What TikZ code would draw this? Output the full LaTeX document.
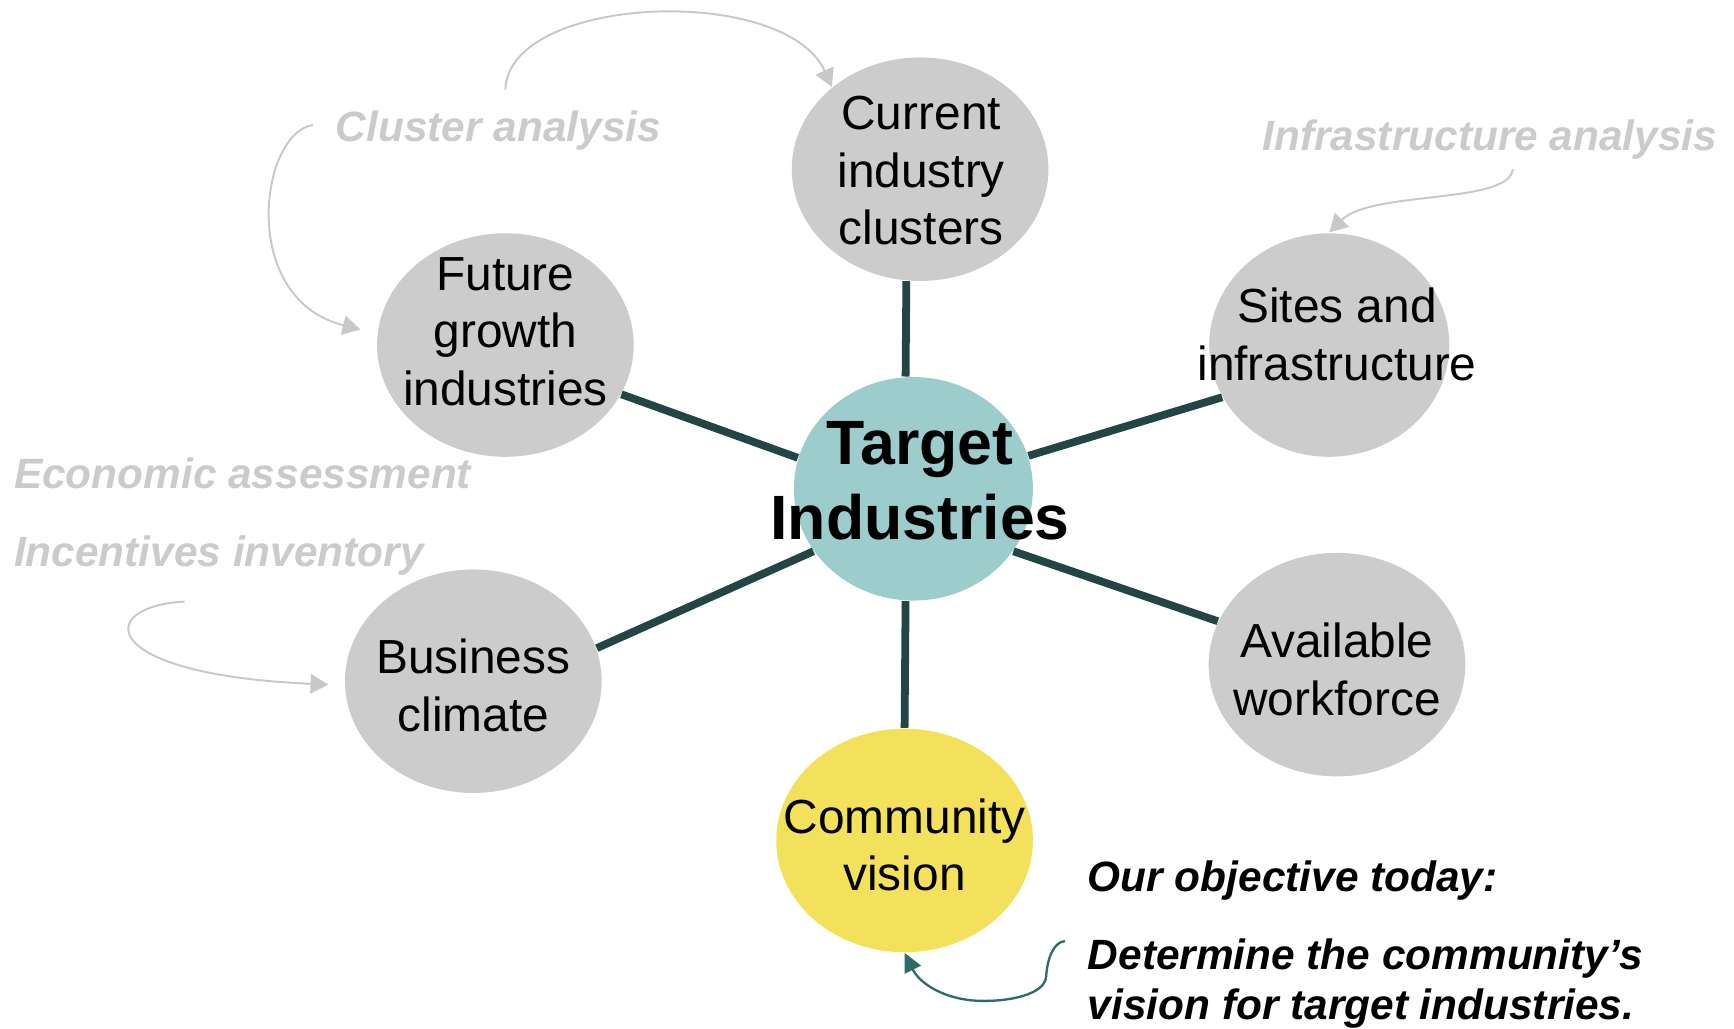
\documentclass[tikz,border=0pt]{standalone}
\usepackage{fontspec}
\setmainfont{Liberation Sans}
\usetikzlibrary{shapes.geometric,arrows.meta}
\definecolor{bubgray}{HTML}{CCCCCC}
\definecolor{tealc}{HTML}{9CCCCB}
\definecolor{yellowc}{HTML}{F4E15B}
\definecolor{spokec}{HTML}{234545}
\definecolor{notegray}{HTML}{CBCBCB}
\definecolor{arrgray}{HTML}{C8C8C8}
\definecolor{tealarr}{HTML}{2E6B69}
\begin{document}
\begin{tikzpicture}[x=0.01cm,y=-0.01cm,
  bub/.style={ellipse,minimum width=2.32cm,minimum height=2.02cm,inner sep=0pt,fill=bubgray},
  lbl/.style={align=center,inner sep=0pt,font=\fontsize{12.3}{14.8}\selectfont},
  note/.style={anchor=base west,inner sep=0pt,text=notegray,font=\fontsize{10.9}{12.8}\selectfont\bfseries\itshape},
  obj/.style={anchor=base west,inner sep=0pt,text=black,font=\fontsize{10.9}{12.8}\selectfont\bfseries\itshape},
  spoke/.style={draw=spokec,line width=2pt},
  garrow/.style={draw=arrgray,line width=0.5pt,-{Triangle[length=4.6pt,width=5pt]}},
  tarrow/.style={draw=tealarr,line width=0.6pt,-{Triangle[length=4.8pt,width=4.6pt]}}
]
\useasboundingbox (0,0) rectangle (1568,930);

% bubbles
\node[bub] (cur) at (832,153) {};
\node[bub] (fut) at (457,312) {};
\node[bub,minimum width=2.17cm] (sit) at (1202,312) {};
\node[bub] (ava) at (1209,601) {};
\node[bub] (bus) at (428,616) {};
\node[bub,fill=yellowc] (com) at (818,760) {};
\node[bub,fill=tealc,minimum width=2.16cm] (tgt) at (826,442) {};

% spokes
\draw[spoke] (tgt.94) -- (cur.263);
\draw[spoke] (tgt.266) -- (com.90);
\draw[spoke] (tgt.165) -- (fut.337);
\draw[spoke] (tgt.16) -- (sit.206);
\draw[spoke] (tgt.212) -- (bus.15);
\draw[spoke] (tgt.328) -- (ava.160);

% bubble texts
\node[lbl] (curt) at (833,154.5) {Current\\industry\\clusters};
\node[lbl] (futt) at (457,300) {Future\\growth\\industries};
\node[lbl] (sitt) at (1209,302.5) {Sites and\\infrastructure};
\node[lbl] (avat) at (1209,605.5) {Available\\workforce};
\node[lbl] (bust) at (428,620) {Business\\climate};
\node[lbl] (comt) at (818,764) {Community\\vision};
\node[align=center,inner sep=0pt,font=\fontsize{16.1}{19.3}\selectfont\bfseries] (tgtt) at (832,435) {Target\\Industries};

% annotations
\node[note] (cla) at (303,128) {Cluster analysis};
\node[note] (ina) at (1141,136) {Infrastructure analysis};
\node[note] (eca) at (12,442) {Economic assessment};
\node[note] (inv) at (12,512) {Incentives inventory};
\node[obj] (ob1) at (983,806) {Our objective today:};
\node[obj] (ob2) at (983,877) {Determine the community’s};
\node[obj] (ob3) at (983,922) {vision for target industries.};

% arrow anchors
\coordinate (c1) at (457,81);
\coordinate (c2) at (283,113);
\coordinate (c2e) at (326,298);
\coordinate (c3) at (1368,153);
\coordinate (c4) at (167,544);
\coordinate (c4e) at (297,619);
\coordinate (c5) at (963,851);

% curved arrows
\draw[garrow] (c1) .. controls (460,-5) and (710,-15) .. (cur.137);
\draw[garrow] (c2) .. controls (235,120) and (215,270) .. (c2e);
\draw[garrow] (c3) .. controls (1365,185) and (1240,172) .. (sit.north);
\draw[garrow] (c4) .. controls (86,548) and (86,610) .. (c4e);
\draw[tarrow] (c5) .. controls (952,852) and (947,868) .. (946,883)
  .. controls (945,900) and (910,906) .. (885,905)
  .. controls (855,904) and (832,890) .. (com.south);
\end{tikzpicture}
\end{document}
